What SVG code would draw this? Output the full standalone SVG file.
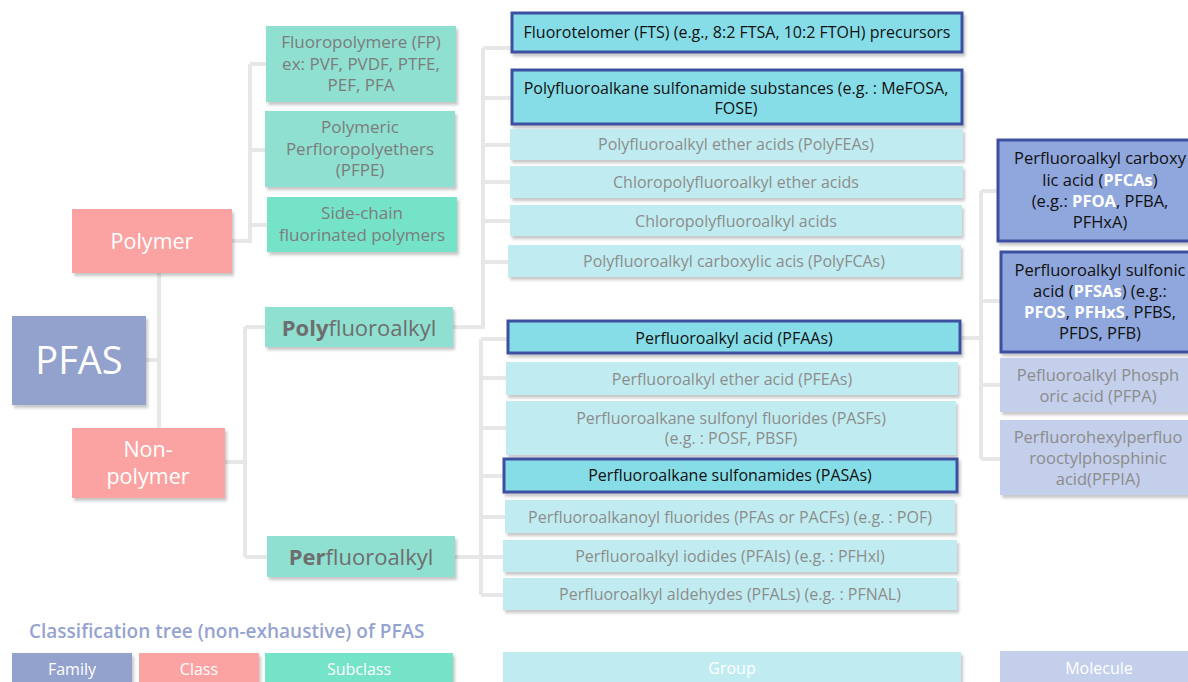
<svg xmlns="http://www.w3.org/2000/svg" width="1188" height="682" viewBox="0 0 1188 682">
<defs>
<filter id="sh" x="-10%" y="-20%" width="130%" height="160%">
<feDropShadow dx="2" dy="3" stdDeviation="1.5" flood-color="#000" flood-opacity="0.22"/>
</filter>
<style>
text{font-family:"Open Sans","Noto Sans",sans-serif;text-anchor:middle}
.fam{fill:#93a2cd}
.cls{fill:#fba3a2}
.sub{fill:#8fe0d0}
.sub2{fill:#74e3c7}
.grp{fill:#c0ecf1}
.grpH{fill:#86dde8;stroke:#3e4fa0;stroke-width:3}
.mol{fill:#c3cfeb}
.molH{fill:#8fa7dc;stroke:#3e4fa0;stroke-width:3}
.conn{fill:none;stroke:#e7e7e7;stroke-width:4}
.tw{fill:#ffffff}
.tg{fill:#7c7c7c;font-size:17px}
.tgr{fill:#8c8c8c;font-size:16px}
.tk{fill:#111;font-size:16px}
.tm{font-size:16.5px}
.b{font-weight:bold}
.lg{fill:#fff;font-size:16px}
</style>
</defs>
<rect width="1188" height="682" fill="#fff"/>

<g id="connectors" class="conn">
<path d="M146 360 H159 M159 273 V428"/>
<path d="M232 241 H250 M250 64 V243 M250 64 H266 M250 150 H265 M250 225 H267"/>
<path d="M225 462 H245 M245 327 V557 M245 327 H265 M245 557 H267"/>
<path d="M453 327 H483 M483 48 V329 M483 48 H511 M483 98 H511 M483 145 H510 M483 182 H510 M483 221 H510 M483 262 H508"/>
<path d="M455 557 H481 M481 339 V595 M481 339 H507 M481 378 H506 M481 428 H506 M481 476 H503 M481 517 H505 M481 557 H503 M481 595 H503"/>
<path d="M961 338 H981 M981 191 V459 M981 191 H997 M981 301 H1000 M981 385 H1000 M981 459 H1000"/>
</g>

<g id="pfas">
<rect class="fam" x="12" y="316" width="134" height="89" filter="url(#sh)"/>
<text class="tw" x="79" y="374" font-size="38">PFAS</text>
</g>

<g id="polymer">
<rect class="cls" x="72" y="209" width="160" height="64" filter="url(#sh)"/>
<text class="tw" x="152" y="249" font-size="21.5">Polymer</text>
</g>
<g id="nonpolymer">
<rect class="cls" x="72" y="428" width="153" height="70" filter="url(#sh)"/>
<text class="tw" x="148" y="457" font-size="21.5">Non-</text>
<text class="tw" x="148" y="484" font-size="21.5">polymer</text>
</g>

<g id="fluoropolymere">
<rect class="sub" x="266" y="26" width="190" height="76" filter="url(#sh)"/>
<text class="tg" x="361" y="48">Fluoropolymere (FP)</text>
<text class="tg" x="361" y="70">ex: PVF, PVDF, PTFE,</text>
<text class="tg" x="361" y="91">PEF, PFA</text>
</g>
<g id="pfpe">
<rect class="sub" x="265" y="111" width="190" height="76" filter="url(#sh)"/>
<text class="tg" x="360" y="133">Polymeric</text>
<text class="tg" x="360" y="155">Perfloropolyethers</text>
<text class="tg" x="360" y="176">(PFPE)</text>
</g>
<g id="sidechain">
<rect class="sub2" x="267" y="197" width="190" height="55" filter="url(#sh)"/>
<text class="tg" x="362" y="219">Side-chain</text>
<text class="tg" x="362" y="241">fluorinated polymers</text>
</g>
<g id="polyfluoroalkyl">
<rect class="sub" x="265" y="307" width="188" height="40" filter="url(#sh)"/>
<text x="359" y="336" font-size="22" fill="#6e6e6e"><tspan class="b">Poly</tspan>fluoroalkyl</text>
</g>
<g id="perfluoroalkyl">
<rect class="sub" x="267" y="536" width="188" height="41" filter="url(#sh)"/>
<text x="361" y="565" font-size="22" fill="#6e6e6e"><tspan class="b">Per</tspan>fluoroalkyl</text>
</g>

<g id="fts">
<rect class="grpH" x="512" y="13" width="450" height="39" filter="url(#sh)"/>
<text class="tk" x="737" y="38">Fluorotelomer (FTS) (e.g., 8:2 FTSA, 10:2 FTOH) precursors</text>
</g>
<g id="polyfluoroalkane">
<rect class="grpH" x="512" y="70" width="450" height="54" filter="url(#sh)"/>
<text class="tk" x="736" y="94">Polyfluoroalkane sulfonamide substances (e.g. : MeFOSA,</text>
<text class="tk" x="736" y="114">FOSE)</text>
</g>
<g id="polyfeas">
<rect class="grp" x="510" y="129" width="453" height="31" filter="url(#sh)"/>
<text class="tgr" x="736" y="150">Polyfluoroalkyl ether acids (PolyFEAs)</text>
</g>
<g id="chloroether">
<rect class="grp" x="510" y="166" width="453" height="32" filter="url(#sh)"/>
<text class="tgr" x="736" y="188">Chloropolyfluoroalkyl ether acids</text>
</g>
<g id="chloroacids">
<rect class="grp" x="510" y="205" width="452" height="31" filter="url(#sh)"/>
<text class="tgr" x="736" y="227">Chloropolyfluoroalkyl acids</text>
</g>
<g id="polyfcas">
<rect class="grp" x="508" y="245" width="453" height="32" filter="url(#sh)"/>
<text class="tgr" x="734" y="267">Polyfluoroalkyl carboxylic acis (PolyFCAs)</text>
</g>

<g id="pfaas">
<rect class="grpH" x="508" y="321" width="452" height="32" filter="url(#sh)"/>
<text class="tk" x="734" y="344">Perfluoroalkyl acid (PFAAs)</text>
</g>
<g id="pfeas">
<rect class="grp" x="506" y="362" width="452" height="33" filter="url(#sh)"/>
<text class="tgr" x="732" y="385">Perfluoroalkyl ether acid (PFEAs)</text>
</g>
<g id="pasfs">
<rect class="grp" x="506" y="401" width="450" height="54" filter="url(#sh)"/>
<text class="tgr" x="731" y="424">Perfluoroalkane sulfonyl fluorides (PASFs)</text>
<text class="tgr" x="731" y="444">(e.g. : POSF, PBSF)</text>
</g>
<g id="pasas">
<rect class="grpH" x="504" y="459" width="453" height="33" filter="url(#sh)"/>
<text class="tk" x="730" y="481">Perfluoroalkane sulfonamides (PASAs)</text>
</g>
<g id="pacfs">
<rect class="grp" x="505" y="500" width="450" height="33" filter="url(#sh)"/>
<text class="tgr" x="730" y="523">Perfluoroalkanoyl fluorides (PFAs or PACFs) (e.g. : POF)</text>
</g>
<g id="pfais">
<rect class="grp" x="503" y="540" width="454" height="32" filter="url(#sh)"/>
<text class="tgr" x="730" y="562">Perfluoroalkyl iodides (PFAIs) (e.g. : PFHxl)</text>
</g>
<g id="pfals">
<rect class="grp" x="503" y="578" width="454" height="32" filter="url(#sh)"/>
<text class="tgr" x="730" y="600">Perfluoroalkyl aldehydes (PFALs) (e.g. : PFNAL)</text>
</g>

<g id="pfcas">
<rect class="molH" x="998" y="140" width="200" height="101" filter="url(#sh)"/>
<text class="tm" x="1100" y="164" fill="#111">Perfluoroalkyl carboxy</text>
<text class="tm" x="1100" y="186" fill="#111">lic acid (<tspan class="b" fill="#fff">PFCAs</tspan>)</text>
<text class="tm" x="1100" y="207" fill="#111">(e.g.: <tspan class="b" fill="#fff">PFOA</tspan>, PFBA,</text>
<text class="tm" x="1100" y="228" fill="#111">PFHxA)</text>
</g>
<g id="pfsas">
<rect class="molH" x="1001" y="252" width="197" height="100" filter="url(#sh)"/>
<text class="tm" x="1100" y="276" fill="#111">Perfluoroalkyl sulfonic</text>
<text class="tm" x="1100" y="297" fill="#111">acid (<tspan class="b" fill="#fff">PFSAs</tspan>) (e.g.:</text>
<text class="tm" x="1100" y="318" fill="#111"><tspan class="b" fill="#fff">PFOS</tspan>, <tspan class="b" fill="#fff">PFHxS</tspan>, PFBS,</text>
<text class="tm" x="1100" y="339" fill="#111">PFDS, PFB)</text>
</g>
<g id="pfpa">
<rect class="mol" x="1000" y="358" width="190" height="54" filter="url(#sh)"/>
<text class="tm" x="1098" y="381" fill="#8c8c8c">Pefluoroalkyl Phosph</text>
<text class="tm" x="1098" y="402" fill="#8c8c8c">oric acid (PFPA)</text>
</g>
<g id="pfpia">
<rect class="mol" x="1000" y="420" width="190" height="75" filter="url(#sh)"/>
<text class="tm" x="1098" y="443" fill="#8c8c8c">Perfluorohexylperfluo</text>
<text class="tm" x="1098" y="464" fill="#8c8c8c">rooctylphosphinic</text>
<text class="tm" x="1098" y="485" fill="#8c8c8c">acid(PFPIA)</text>
</g>

<g id="legend">
<text x="29" y="638" font-size="19" font-weight="600" fill="#95a3d1" style="text-anchor:start">Classification tree (non-exhaustive) of PFAS</text>
<rect class="fam" x="12" y="653" width="120" height="35" filter="url(#sh)"/>
<text class="lg" x="72" y="675">Family</text>
<rect class="cls" x="139" y="653" width="120" height="35" filter="url(#sh)"/>
<text class="lg" x="199" y="675">Class</text>
<rect class="sub2" x="265" y="653" width="188" height="35" filter="url(#sh)"/>
<text class="lg" x="359" y="675">Subclass</text>
<rect class="grp" x="503" y="652" width="458" height="36" filter="url(#sh)"/>
<text class="lg" x="732" y="674">Group</text>
<rect class="mol" x="1000" y="651" width="190" height="37" filter="url(#sh)"/>
<text class="lg" x="1099" y="674">Molecule</text>
</g>
</svg>
